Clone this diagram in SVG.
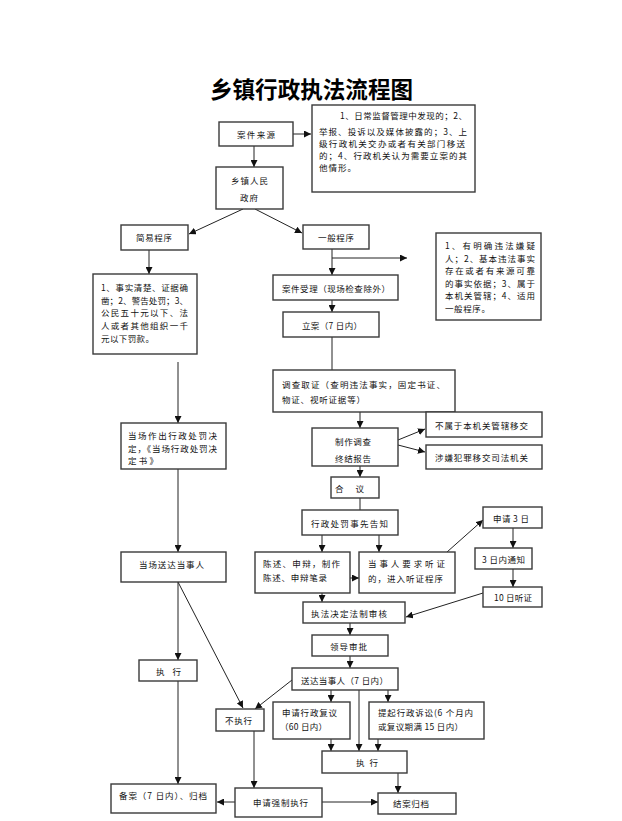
<svg xmlns="http://www.w3.org/2000/svg" width="622" height="821" viewBox="0 0 622 821">
<style>
.b{fill:#fff;stroke:#3a3a3a;stroke-width:1.4}
.t{font-family:"Noto Sans CJK SC","Noto Sans",sans-serif;font-size:8.5px;fill:#111;dominant-baseline:central}
.title{font-family:"Noto Sans CJK SC","Noto Sans",sans-serif;font-size:23px;font-weight:bold;fill:#000;dominant-baseline:central}
.l{fill:none;stroke:#222;stroke-width:1}
.a{marker-end:url(#arr)}
</style>
<defs>
<marker id="arr" markerUnits="userSpaceOnUse" markerWidth="7" markerHeight="7" refX="7" refY="3.5" orient="auto">
<path d="M0,0 L7,3.5 L0,7 z" fill="#111"/>
</marker>
</defs>
<rect width="622" height="821" fill="#fff"/>
<text class="title" x="210" y="87.5" textLength="203" lengthAdjust="spacingAndGlyphs">乡镇行政执法流程图</text>

<g id="connectors">
<path class="l a" d="M293,134 H311"/>
<path class="l a" d="M254,146 V167"/>
<path class="l a" d="M243,209 L189,234"/>
<path class="l a" d="M255,209 L302,233"/>
<path class="l a" d="M149,250 V274"/>
<path class="l a" d="M332,249 V275"/>
<path class="l a" d="M332,258 H407"/>
<path class="l a" d="M332,300 V312"/>
<path class="l" d="M332,337 V370"/>
<path class="l a" d="M360,412 V428"/>
<path class="l a" d="M398,440 L425,429"/>
<path class="l a" d="M398,445 L425,452"/>
<path class="l a" d="M360,466 V477"/>
<path class="l" d="M360,498 V510"/>
<path class="l a" d="M322,535 V552"/>
<path class="l a" d="M379,535 V552"/>
<path class="l a" d="M350,578 H359"/>
<path class="l a" d="M447,552 L483,520"/>
<path class="l a" d="M513,528 V548"/>
<path class="l a" d="M513,569 V587"/>
<path class="l a" d="M483,593 L406,617"/>
<path class="l a" d="M322,593 V602"/>
<path class="l a" d="M350,623 V635"/>
<path class="l a" d="M350,656 V668"/>
<path class="l a" d="M331,690 V702"/>
<path class="l a" d="M388,690 V702"/>
<path class="l a" d="M359,690 V751"/>
<path class="l a" d="M292,680 L255,709"/>
<path class="l a" d="M331,739 V751"/>
<path class="l a" d="M378,739 V751"/>
<path class="l a" d="M398,773 V793"/>
<path class="l a" d="M322,802 H378"/>
<path class="l a" d="M235,802 H217"/>
<path class="l a" d="M254,731 V788"/>
<path class="l a" d="M178,681 V784"/>
<path class="l a" d="M178,582 V660"/>
<path class="l a" d="M178,582 L243,708"/>
<path class="l a" d="M178,469 V552"/>
<path class="l a" d="M178,362 V423"/>
</g>

<g id="n_source"><rect class="b" x="219" y="122" width="74" height="24"/><text class="t" x="237" y="134" textLength="38">案件来源</text></g>
<g id="n_source_desc"><rect class="b" x="312" y="105" width="163" height="87"/>
<text class="t" x="340" y="115" textLength="127">1、日常监督管理中发现的；2、</text>
<text class="t" x="319" y="130.5" textLength="148">举报、投诉以及媒体披露的；3、上</text>
<text class="t" x="319" y="143" textLength="146">级行政机关交办或者有关部门移送</text>
<text class="t" x="319" y="155" textLength="148">的；4、行政机关认为需要立案的其</text>
<text class="t" x="319" y="167" textLength="37">他情形。</text></g>
<g id="n_gov"><rect class="b" x="216" y="167" width="67" height="42"/><text class="t" x="231" y="180" textLength="37">乡镇人民</text><text class="t" x="240" y="197" textLength="18">政府</text></g>
<g id="n_simple"><rect class="b" x="121" y="225" width="67" height="25"/><text class="t" x="136" y="237" textLength="36">简易程序</text></g>
<g id="n_simple_desc"><rect class="b" x="93" y="274" width="104" height="80"/>
<text class="t" x="101" y="287" textLength="87">1、事实清楚、证据确</text>
<text class="t" x="101" y="299.5" textLength="87">凿；2、警告处罚；3、</text>
<text class="t" x="101" y="312" textLength="87">公民五十元以下、法</text>
<text class="t" x="101" y="325" textLength="87">人或者其他组织一千</text>
<text class="t" x="101" y="337.5" textLength="53">元以下罚款。</text></g>
<g id="n_general"><rect class="b" x="303" y="225" width="66" height="24"/><text class="t" x="318" y="236.5" textLength="36">一般程序</text></g>
<g id="n_general_desc"><rect class="b" x="436" y="233" width="105" height="87"/>
<text class="t" x="445" y="245" textLength="90">1、有明确违法嫌疑</text>
<text class="t" x="445" y="257.5" textLength="90">人；2、基本违法事实</text>
<text class="t" x="445" y="270" textLength="90">存在或者有来源可靠</text>
<text class="t" x="445" y="282.5" textLength="90">的事实依据；3、属于</text>
<text class="t" x="445" y="295" textLength="90">本机关管辖；4、适用</text>
<text class="t" x="445" y="308" textLength="45">一般程序。</text></g>
<g id="n_accept"><rect class="b" x="273" y="275" width="125" height="25"/><text class="t" x="282" y="288" textLength="108">案件受理（现场检查除外）</text></g>
<g id="n_file"><rect class="b" x="283" y="312" width="96" height="25"/><text class="t" x="302" y="325" textLength="60">立案（7 日内）</text></g>
<g id="n_investigate"><rect class="b" x="273" y="370" width="182" height="42"/>
<text class="t" x="282" y="384" textLength="163">调查取证（查明违法事实，固定书证、</text>
<text class="t" x="282" y="399" textLength="83">物证、视听证据等）</text></g>
<g id="n_report"><rect class="b" x="312" y="428" width="86" height="38"/><text class="t" x="335" y="441" textLength="36">制作调查</text><text class="t" x="335" y="458" textLength="36">终结报告</text></g>
<g id="n_transfer1"><rect class="b" x="426" y="412" width="116" height="25"/><text class="t" x="435" y="425" textLength="93">不属于本机关管辖移交</text></g>
<g id="n_transfer2"><rect class="b" x="426" y="445" width="116" height="24"/><text class="t" x="435" y="457" textLength="93">涉嫌犯罪移交司法机关</text></g>
<g id="n_deliberate"><rect class="b" x="331" y="477" width="48" height="21"/><text class="t" x="335" y="488" textLength="29">合 议</text></g>
<g id="n_onsite"><rect class="b" x="121" y="423" width="105" height="46"/>
<text class="t" x="128" y="435" textLength="89">当场作出行政处罚决</text>
<text class="t" x="128" y="448" textLength="89">定，《当场行政处罚决</text>
<text class="t" x="128" y="460" textLength="30">定书》</text></g>
<g id="n_notice"><rect class="b" x="302" y="510" width="96" height="25"/><text class="t" x="311" y="523" textLength="77">行政处罚事先告知</text></g>
<g id="n_statement"><rect class="b" x="255" y="552" width="95" height="41"/>
<text class="t" x="263" y="563" textLength="77">陈述、申辩，制作</text>
<text class="t" x="263" y="577" textLength="64">陈述、申辩笔录</text></g>
<g id="n_hearing"><rect class="b" x="359" y="552" width="96" height="41"/>
<text class="t" x="368" y="563" textLength="77">当事人要求听证</text>
<text class="t" x="368" y="578" textLength="75">的，进入听证程序</text></g>
<g id="n_apply3"><rect class="b" x="483" y="507" width="59" height="21"/><text class="t" x="493" y="518" textLength="36">申请 3 日</text></g>
<g id="n_notify3"><rect class="b" x="475" y="548" width="57" height="21"/><text class="t" x="482" y="559" textLength="43">3 日内通知</text></g>
<g id="n_hearing10"><rect class="b" x="483" y="587" width="59" height="20"/><text class="t" x="494" y="597" textLength="38">10 日听证</text></g>
<g id="n_review"><rect class="b" x="303" y="602" width="102" height="21"/><text class="t" x="311" y="613" textLength="76">执法决定法制审核</text></g>
<g id="n_approve"><rect class="b" x="312" y="635" width="76" height="21"/><text class="t" x="330" y="646" textLength="37">领导审批</text></g>
<g id="n_deliver"><rect class="b" x="292" y="668" width="106" height="22"/><text class="t" x="301" y="680" textLength="87">送达当事人（7 日内）</text></g>
<g id="n_deliver_onsite"><rect class="b" x="121" y="552" width="105" height="30"/><text class="t" x="139" y="564" textLength="65">当场送达当事人</text></g>
<g id="n_execute_left"><rect class="b" x="139" y="660" width="58" height="21"/><text class="t" x="156" y="671" textLength="25">执 行</text></g>
<g id="n_not_execute"><rect class="b" x="216" y="709" width="48" height="22"/><text class="t" x="225" y="720" textLength="27">不执行</text></g>
<g id="n_reconsider"><rect class="b" x="273" y="702" width="77" height="37"/>
<text class="t" x="282" y="712" textLength="55">申请行政复议</text>
<text class="t" x="280" y="726" textLength="47">（60 日内）</text></g>
<g id="n_litigation"><rect class="b" x="369" y="702" width="115" height="37"/>
<text class="t" x="378" y="712" textLength="95">提起行政诉讼(6 个月内</text>
<text class="t" x="378" y="726" textLength="85">或复议期满 15 日内）</text></g>
<g id="n_execute"><rect class="b" x="322" y="751" width="85" height="22"/><text class="t" x="356" y="762" textLength="22">执行</text></g>
<g id="n_close"><rect class="b" x="378" y="793" width="78" height="21"/><text class="t" x="393" y="803" textLength="36">结案归档</text></g>
<g id="n_enforce"><rect class="b" x="235" y="788" width="87" height="29"/><text class="t" x="253" y="802" textLength="55">申请强制执行</text></g>
<g id="n_archive"><rect class="b" x="111" y="784" width="105" height="29"/><text class="t" x="119" y="795" textLength="88">备案（7 日内）、归档</text></g>
</svg>
